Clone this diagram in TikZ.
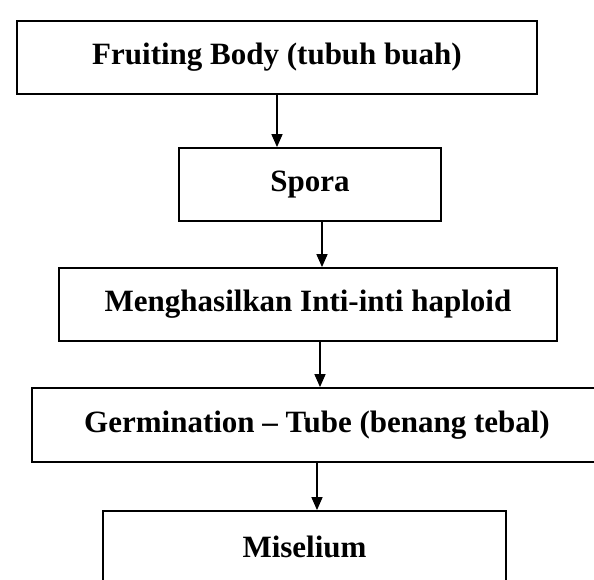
\documentclass[tikz,border=0pt]{standalone}
\usepackage{fontspec}
\setmainfont{Liberation Serif}
\usepackage{tikz}
\usetikzlibrary{arrows.meta,positioning}

\begin{document}
\begin{tikzpicture}[
  x=1pt, y=-1pt,
  box/.style={draw, line width=1.8pt, minimum height=73pt, inner sep=0pt,
    align=center, font=\fontsize{31}{36}\selectfont\bfseries},
  arr/.style={-{Triangle[length=13pt,width=11pt]}, line width=1.5pt}
]
\useasboundingbox (0,0) rectangle (594,580);
\clip (0,0) rectangle (594,580);

% Fruiting body
\node[box, minimum width=520pt] (fruit) at (277,57.5) {Fruiting Body (tubuh buah)};

% Spora
\node[box, minimum width=262pt] (spora) at (310,184.5) {Spora};

% Haploid nuclei
\node[box, minimum width=498pt] (haploid) at (308,304.5) {Menghasilkan Inti-inti haploid};

% Germination tube
\node[box, minimum width=570pt, minimum height=74pt] (germ) at (317,425) {Germination -- Tube (benang tebal)};

% Miselium
\node[box, minimum width=403pt, minimum height=72pt] (misel) at (304.5,547) {Miselium};

\draw[arr] (fruit.south) -- (fruit.south |- spora.north);
\draw[arr] ([xshift=12pt]spora.south) -- ([xshift=12pt]spora.south |- haploid.north);
\draw[arr] ([xshift=12pt]haploid.south) -- ([xshift=12pt]haploid.south |- germ.north);
\draw[arr] (germ.south) -- (germ.south |- misel.north);

\end{tikzpicture}
\end{document}
